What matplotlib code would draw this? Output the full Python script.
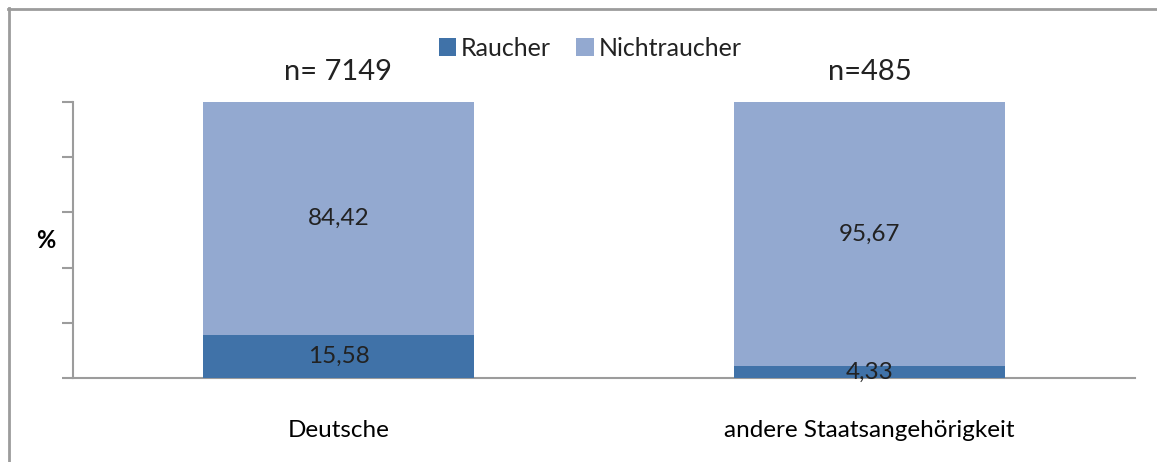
import numpy as np
import matplotlib
matplotlib.use("Agg")
import matplotlib.pyplot as plt
from matplotlib.lines import Line2D

# data
categories = ["Deutsche", "andere Staatsangehörigkeit"]
raucher = [15.58, 4.33]
nichtraucher = [84.42, 95.67]
n_labels = ["n= 7149", "n=485"]
series_names = ["Raucher", "Nichtraucher"]

COL_R = "#4072A8"
COL_N = "#93A9D0"
GRAY = "#9C9C9C"

plt.rcParams.update({
    "font.family": ["Lato", "DejaVu Sans"],
    "font.size": 17.5,
    "text.color": "#222222",
})

W, H = 1157, 462
fig = plt.figure(figsize=(W / 100, H / 100), dpi=100, facecolor="white")

# outer chart frame (only top and left edges visible)
fig.add_artist(Line2D([8 / W, 1.0], [1 - 8.5 / H, 1 - 8.5 / H],
                      transform=fig.transFigure, color=GRAY, lw=2))
fig.add_artist(Line2D([8.5 / W, 8.5 / W], [0, 1 - 8 / H],
                      transform=fig.transFigure, color=GRAY, lw=2))

ax = fig.add_axes([73 / W, 1 - 378 / H, (1135 - 73) / W, (378 - 102) / H])
x = np.arange(len(categories))
w = 0.512

ax.bar(x, raucher, w, color=COL_R, label=series_names[0], zorder=3)
ax.bar(x, nichtraucher, w, bottom=raucher, color=COL_N,
       label=series_names[1], zorder=3)

for i in range(len(categories)):
    ax.text(x[i], raucher[i] / 2, f"{raucher[i]:.2f}".replace(".", ","),
            ha="center", va="center", zorder=5)
    ax.text(x[i], raucher[i] + nichtraucher[i] / 2,
            f"{nichtraucher[i]:.2f}".replace(".", ","),
            ha="center", va="center", zorder=5)
    ax.text(x[i], 111, n_labels[i], ha="center", va="center", fontsize=21)

ax.set_xlim(-0.5, 1.5)
ax.set_ylim(0, 100)
ax.set_yticks(np.arange(0, 101, 20))
ax.set_yticklabels([])
ax.set_xticks(x)
ax.set_xticklabels(categories)
ax.tick_params(axis="x", length=0, pad=30)
ax.tick_params(axis="y", length=8, width=1.5, color=GRAY, direction="out")
for s in ["top", "right"]:
    ax.spines[s].set_visible(False)
for s in ["left", "bottom"]:
    ax.spines[s].set_color(GRAY)
    ax.spines[s].set_linewidth(1.5)

ax.set_ylabel("%", rotation=0, fontweight="bold", fontsize=17, labelpad=8,
              va="center")

ax.legend(loc="center", bbox_to_anchor=(0.487, 1.195), ncol=2,
          frameon=False, handlelength=0.7, handleheight=0.7,
          handletextpad=0.2, columnspacing=1.0, borderaxespad=0,
          fontsize=18)

plt.savefig("out.png", dpi=100, facecolor="white")
plt.close()
